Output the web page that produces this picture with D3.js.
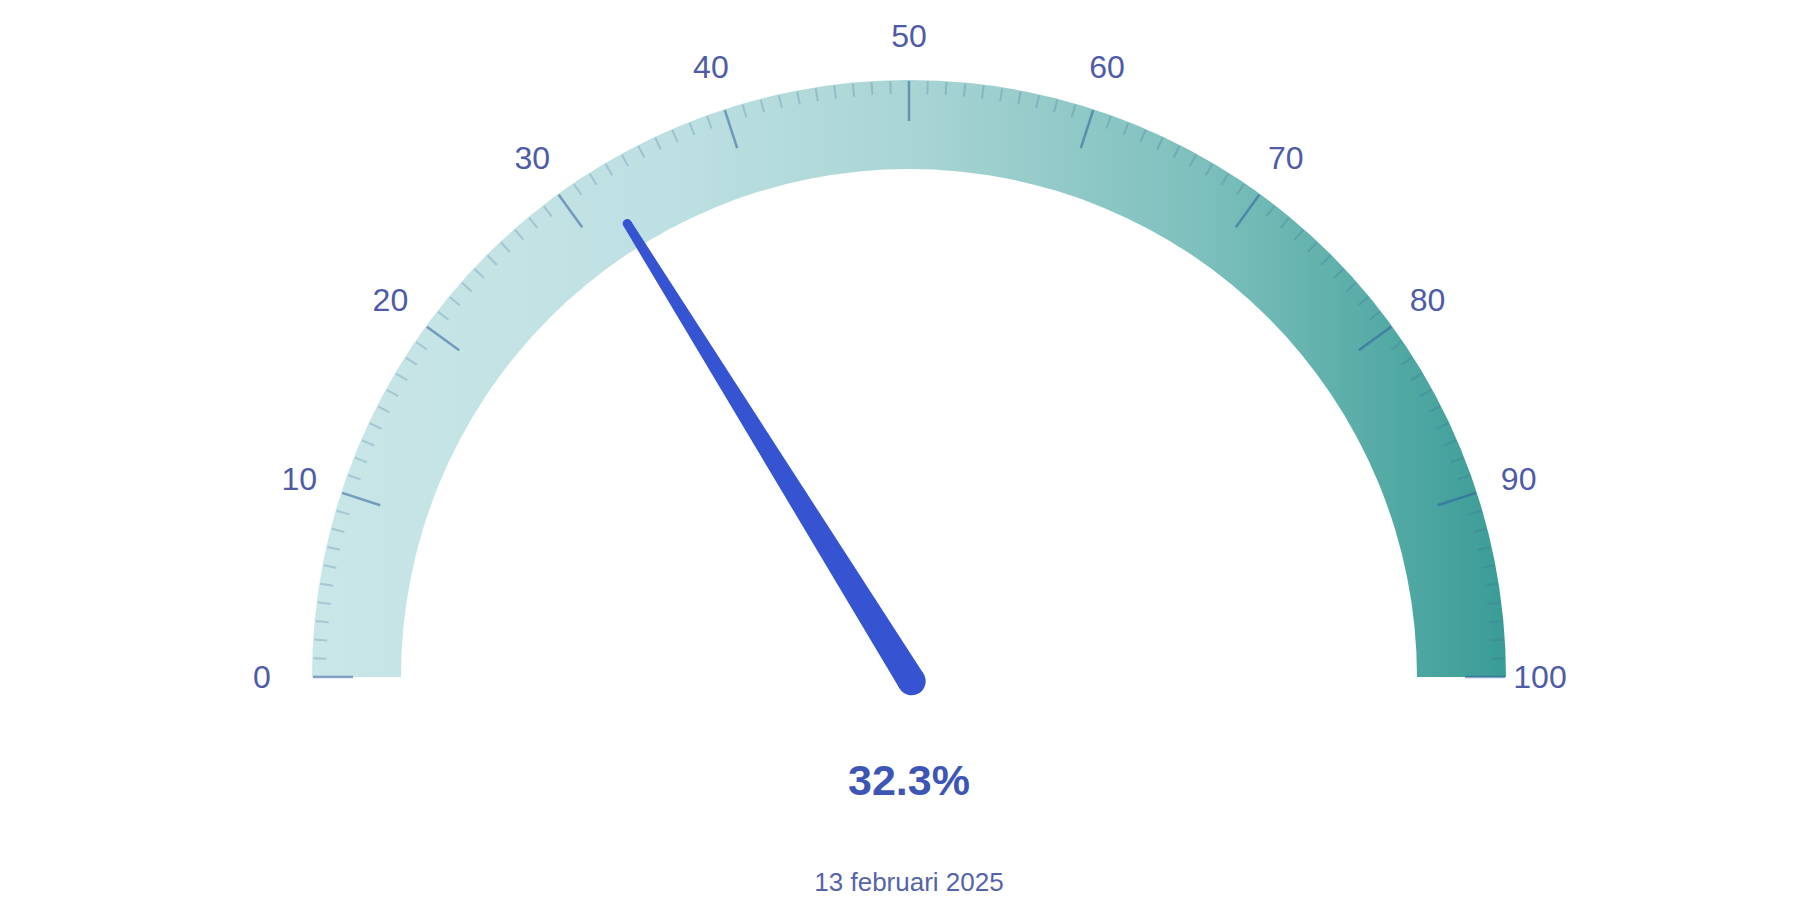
<!DOCTYPE html>
<html>
<head>
<meta charset="utf-8">
<script src="https://cdn.jsdelivr.net/npm/d3@7"></script>
<style>
  html, body { margin: 0; padding: 0; background: #fff; }
  svg { display: block; }
  text { font-family: "Liberation Sans", Arial, sans-serif; }
</style>
</head>
<body>
<svg id="vis"></svg>
<script>
// gauge data
const gaugeDomain = [0, 100];
const majorTicks = [0, 10, 20, 30, 40, 50, 60, 70, 80, 90, 100];
const minorTicks = d3.range(0, 101, 1);
const gaugeValue = 32.3;
const valueLabel = '32.3%';
const dateLabel = '13 februari 2025';

const W = 1820, H = 910;
const cx = 909, cy = 677;
const rOuter = 597, rInner = 508;
const rLabel = 641;

const svg = d3.select('#vis').attr('width', W).attr('height', H);

const angle = d3.scaleLinear().domain(gaugeDomain).range([-Math.PI / 2, Math.PI / 2]);
const pt = (v, r) => [cx + r * Math.sin(angle(v)), cy - r * Math.cos(angle(v))];

const defs = svg.append('defs');
// gradient lives in the band's own (translated) coordinates
const grad = defs.append('linearGradient')
    .attr('id', 'band')
    .attr('gradientUnits', 'userSpaceOnUse')
    .attr('x1', -rOuter).attr('y1', 0)
    .attr('x2', rOuter).attr('y2', 0);
grad.append('stop').attr('offset', 0).attr('stop-color', '#c9e6e8');
grad.append('stop').attr('offset', 0.3).attr('stop-color', '#bee0e2');
grad.append('stop').attr('offset', 0.5).attr('stop-color', '#a9d5d5');
grad.append('stop').attr('offset', 0.75).attr('stop-color', '#7cbfbc');
grad.append('stop').attr('offset', 1).attr('stop-color', '#3a9c96');

// band
const arc = d3.arc()
    .innerRadius(rInner).outerRadius(rOuter)
    .startAngle(angle(gaugeDomain[0])).endAngle(angle(gaugeDomain[1]));
svg.append('path')
    .attr('transform', `translate(${cx},${cy})`)
    .attr('d', arc())
    .attr('fill', 'url(#band)');

// ticks
svg.append('g').attr('class', 'minor')
  .selectAll('line')
  .data(minorTicks.filter(d => d % 10 !== 0))
  .join('line')
    .attr('x1', d => pt(d, rOuter - 1)[0]).attr('y1', d => pt(d, rOuter - 1)[1])
    .attr('x2', d => pt(d, rOuter - 14)[0]).attr('y2', d => pt(d, rOuter - 14)[1])
    .attr('stroke', '#3f6a98').attr('stroke-opacity', 0.25).attr('stroke-width', 2);

svg.append('g').attr('class', 'major')
  .selectAll('line')
  .data(majorTicks)
  .join('line')
    .attr('x1', d => pt(d, rOuter - 1)[0]).attr('y1', d => pt(d, rOuter - 1)[1])
    .attr('x2', d => pt(d, rOuter - 41)[0]).attr('y2', d => pt(d, rOuter - 41)[1])
    .attr('stroke', '#2f5f9a').attr('stroke-opacity', 0.55).attr('stroke-width', 2.5);

// tick labels
svg.append('g').attr('class', 'labels')
  .selectAll('text')
  .data(majorTicks)
  .join('text')
    .attr('x', d => pt(d, rLabel)[0] + (d === 0 ? -6 : d === 100 ? -10 : 0))
    .attr('y', d => pt(d, rLabel)[1])
    .attr('text-anchor', 'middle')
    .attr('dominant-baseline', 'central')
    .attr('font-size', 32)
    .attr('fill', '#4d5ba8')
    .text(d => d);

// needle
const needleLen = 534, baseR = 14, tipR = 4.5, baseOff = 5;
const needle = svg.append('g')
    .attr('transform', `translate(${cx},${cy}) rotate(${angle(gaugeValue) * 180 / Math.PI})`)
    .attr('fill', '#3654d1');
needle.append('path')
    .attr('d', `M${-baseR},${baseOff} L${-tipR},${-needleLen} L${tipR},${-needleLen} L${baseR},${baseOff} Z`);
needle.append('circle').attr('cx', 0).attr('cy', baseOff).attr('r', baseR);
needle.append('circle').attr('cx', 0).attr('cy', -needleLen).attr('r', tipR);

// value and date
svg.append('text')
    .attr('x', cx).attr('y', 780)
    .attr('text-anchor', 'middle')
    .attr('dominant-baseline', 'central')
    .attr('font-size', 43)
    .attr('font-weight', 'bold')
    .attr('fill', '#3d56b5')
    .text(valueLabel);

svg.append('text')
    .attr('x', cx).attr('y', 882)
    .attr('text-anchor', 'middle')
    .attr('dominant-baseline', 'central')
    .attr('font-size', 26)
    .attr('fill', '#5563ad')
    .text(dateLabel);
</script>
</body>
</html>
